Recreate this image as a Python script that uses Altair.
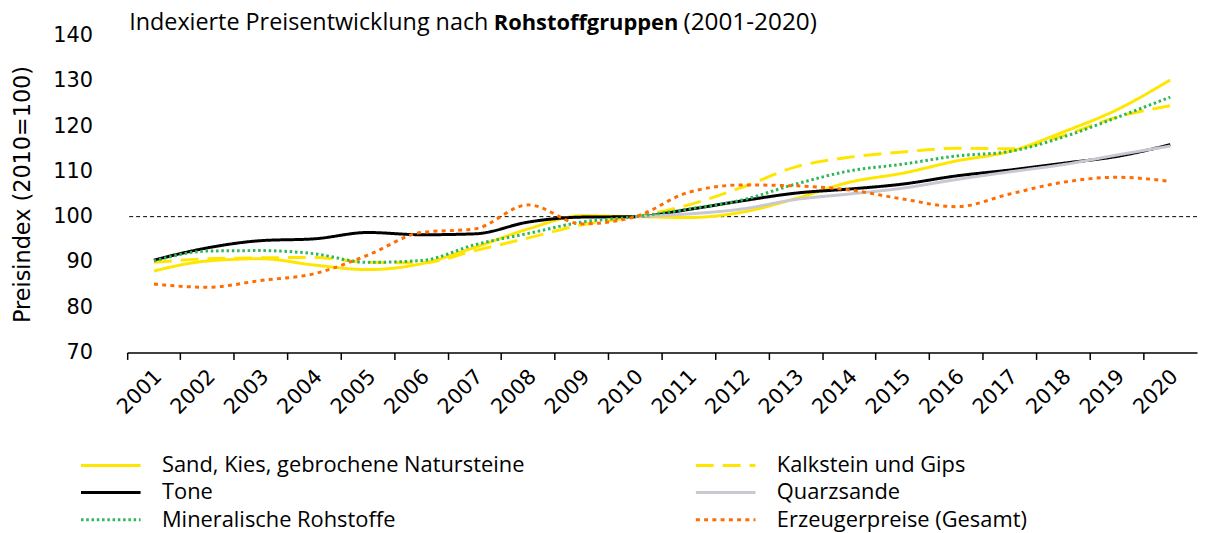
import altair as alt
import pandas as pd

jahre = [str(y) for y in range(2001, 2021)]
serien = [
    "Sand, Kies, gebrochene Natursteine",
    "Kalkstein und Gips",
    "Tone",
    "Quarzsande",
    "Mineralische Rohstoffe",
    "Erzeugerpreise (Gesamt)",
]
sand = [88.0, 90.2, 90.7, 89.3, 88.3, 89.6, 93.2, 97.3, 100.2, 100.0, 99.8, 101.0, 104.0, 107.6, 109.6, 112.3, 114.4, 118.7, 123.6, 130.2]
kalk = [89.9, 90.7, 90.9, 91.0, 89.9, 89.8, 92.5, 95.3, 98.2, 100.0, 102.6, 106.5, 111.0, 113.1, 114.3, 115.1, 115.0, 117.9, 122.0, 124.5]
tone = [90.4, 93.1, 94.7, 95.1, 96.5, 96.0, 96.2, 98.8, 99.9, 100.0, 101.6, 103.5, 105.2, 106.1, 107.2, 109.0, 110.3, 111.8, 113.3, 115.9]
quarz = [None] * 9 + [100.0, 100.6, 101.7, 103.8, 105.0, 106.3, 108.2, 109.9, 111.5, 113.6, 115.6]
mineral = [90.2, 92.4, 92.5, 91.8, 89.9, 90.3, 93.8, 96.3, 98.8, 100.0, 101.7, 103.7, 107.2, 110.1, 111.6, 113.4, 114.4, 117.6, 121.9, 126.4]
erzeuger = [85.1, 84.4, 85.9, 87.4, 91.5, 96.5, 97.3, 102.6, 98.4, 100.0, 105.4, 107.0, 106.8, 105.9, 103.9, 102.2, 105.0, 107.6, 108.7, 107.8]

farben = ["#FFE600", "#FFE600", "#000000", "#C8C8D0", "#2DB757", "#FF6D00"]
striche = [[1, 0], [18, 9], [1, 0], [1, 0], [2.5, 2.8], [4, 4.3]]
breiten = [3, 3, 3, 3, 2.5, 4]

werte = [sand, kalk, tone, quarz, mineral, erzeuger]
rows = []
for s, vals in zip(serien, werte):
    for j, v in zip(jahre, vals):
        if v is not None:
            rows.append({"Jahr": j, "Serie": s, "Wert": v})
df = pd.DataFrame(rows)

W, H = 1077, 319
TXT = "Open Sans"
AX = "DejaVu Sans"

lines = alt.Chart(df).mark_line(interpolate="monotone").encode(
    x=alt.X(
        "Jahr:N",
        sort=jahre,
        scale=alt.Scale(type="band", paddingInner=0, paddingOuter=0),
        axis=alt.Axis(
            title=None,
            labelAngle=-45,
            labelFont=AX,
            labelFontSize=21,
            labelColor="#000000",
            bandPosition=0,
            tickSize=7,
            tickColor="#000000",
            domainColor="#000000",
            domainWidth=1.5,
            tickWidth=1.5,
            labelPadding=6,
            labelOffset=-3,
            grid=False,
        ),
    ),
    y=alt.Y(
        "Wert:Q",
        scale=alt.Scale(domain=[70, 140], nice=False, zero=False),
        axis=alt.Axis(
            title="Preisindex (2010=100)",
            titleFont=AX,
            titleFontSize=22.5,
            titleFontWeight="normal",
            titleColor="#000000",
            titlePadding=18,
            values=[70, 80, 90, 100, 110, 120, 130, 140],
            labelFont=AX,
            labelFontSize=21,
            labelColor="#000000",
            labelPadding=35,
            ticks=False,
            domain=False,
            grid=False,
        ),
    ),
    color=alt.Color(
        "Serie:N",
        scale=alt.Scale(domain=serien, range=farben),
        legend=alt.Legend(
            title=None,
            orient="none",
            direction="horizontal",
            legendX=-28,
            legendY=421,
            padding=0,
            columns=2,
            symbolType="M-3,0H3",
            symbolSize=400,
            labelFont=TXT,
            labelFontSize=22,
            labelColor="#000000",
            labelOffset=40,
            labelLimit=0,
            rowPadding=4.5,
            columnPadding=165,
        ),
    ),
    strokeDash=alt.StrokeDash("Serie:N", scale=alt.Scale(domain=serien, range=striche), legend=None),
    strokeWidth=alt.StrokeWidth("Serie:N", scale=alt.Scale(domain=serien, range=breiten), legend=None),
    order=alt.Order("Jahr:N"),
)

ref = alt.Chart(pd.DataFrame({"v": [100]})).mark_rule(
    color="#000000", strokeWidth=1, strokeDash=[4, 3]
).encode(y=alt.Y("v:Q"))

titel1 = alt.Chart(pd.DataFrame({"t": ["Indexierte Preisentwicklung nach"]})).mark_text(
    align="left", baseline="alphabetic", font=TXT, fontSize=23.5, color="#000000"
).encode(x=alt.value(2), y=alt.value(-6), text="t:N")
titel2 = alt.Chart(pd.DataFrame({"t": ["Rohstoffgruppen"]})).mark_text(
    align="left", baseline="alphabetic", font=TXT, fontSize=22, fontWeight="bold", color="#000000"
).encode(x=alt.value(369), y=alt.value(-6), text="t:N")
titel3 = alt.Chart(pd.DataFrame({"t": ["(2001-2020)"]})).mark_text(
    align="left", baseline="alphabetic", font=TXT, fontSize=24.5, color="#000000"
).encode(x=alt.value(560), y=alt.value(-6), text="t:N")

chart = alt.layer(ref, lines, titel1, titel2, titel3).properties(
    width=W,
    height=H,
    autosize=alt.AutoSizeParams(type="none"),
    padding={"left": 120, "top": 26, "right": 1, "bottom": 180},
).configure_view(stroke=None)

chart.save("out.html", embed_options={"renderer": "svg", "actions": False})
